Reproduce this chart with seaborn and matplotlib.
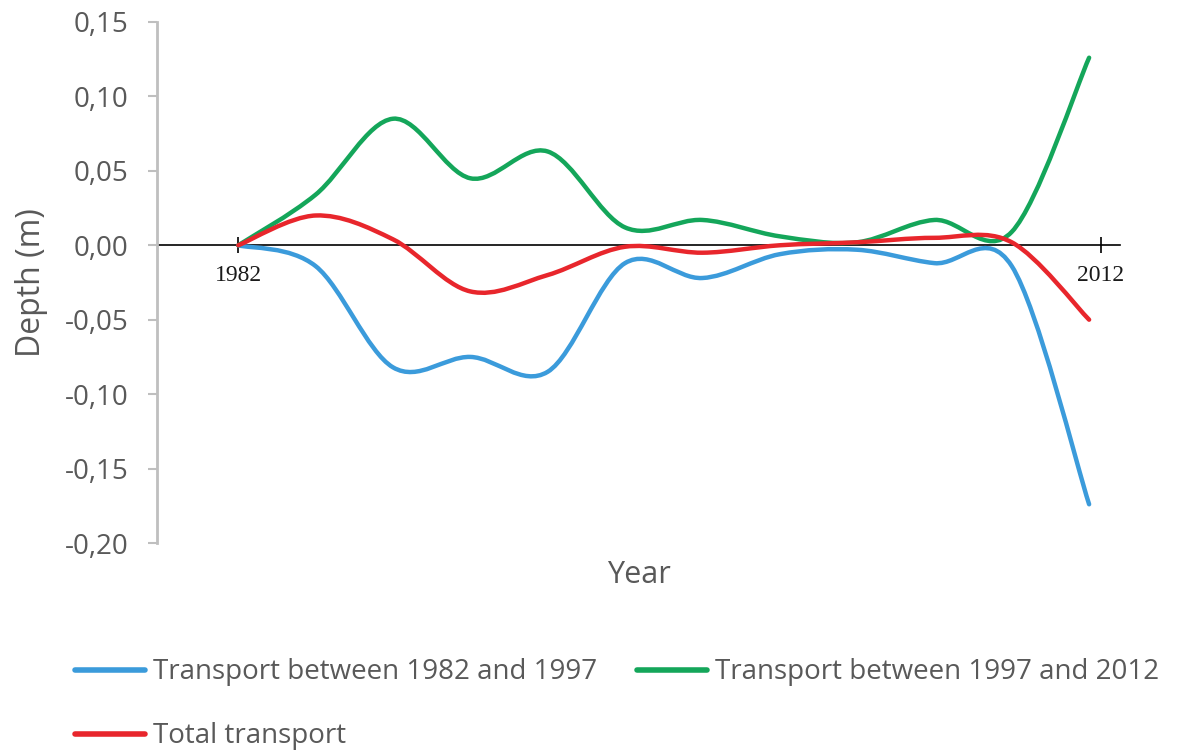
import numpy as np
import pandas as pd
import matplotlib.pyplot as plt
import seaborn as sns
from matplotlib.path import Path
from matplotlib.patches import PathPatch
from matplotlib.ticker import FuncFormatter

# survey steps along the x axis (first = 1982, last = 2012)
steps = [0, 1, 2, 3, 4, 5, 6, 7, 8, 9, 10, 11]
year_ticks = [0, 11.15]
year_labels = ["1982", "2012"]

blue_vals = [0.000, -0.014, -0.082, -0.075, -0.085, -0.012, -0.022, -0.006, -0.003, -0.012, -0.014, -0.174]
green_vals = [0.000, 0.034, 0.085, 0.045, 0.063, 0.012, 0.017, 0.006, 0.002, 0.017, 0.009, 0.126]
red_vals = [0.000, 0.020, 0.004, -0.031, -0.020, -0.001, -0.005, 0.000, 0.002, 0.005, 0.002, -0.050]

series_names = ["Transport between 1982 and 1997",
                "Transport between 1997 and 2012",
                "Total transport"]
colors = {series_names[0]: "#3B9BDB",
          series_names[1]: "#14A65A",
          series_names[2]: "#E8262C"}

df = pd.concat([
    pd.DataFrame({"step": steps, "depth": blue_vals, "series": series_names[0]}),
    pd.DataFrame({"step": steps, "depth": green_vals, "series": series_names[1]}),
    pd.DataFrame({"step": steps, "depth": red_vals, "series": series_names[2]}),
], ignore_index=True)

sns.set_theme(style="white")
plt.rcParams["font.family"] = ["Open Sans", "DejaVu Sans"]
GREY = "#595959"

fig = plt.figure(figsize=(11.88, 7.5), dpi=100)
ax = fig.add_axes([0.1322, 0.276, 0.8106, 0.6947])

sns.lineplot(data=df, x="step", y="depth", hue="series", hue_order=series_names,
             palette=colors, linewidth=3.2, ax=ax)


def smooth_path(xs, ys):
    """Excel-like smoothed line: Catmull-Rom control points as cubic Beziers."""
    p = np.column_stack([xs, ys]).astype(float)
    n = len(p)
    verts = [p[0]]
    codes = [Path.MOVETO]
    for i in range(n - 1):
        p_prev = p[i - 1] if i > 0 else p[i]
        p_next2 = p[i + 2] if i + 2 < n else p[i + 1]
        c1 = p[i] + (p[i + 1] - p_prev) / 6.0
        c2 = p[i + 1] - (p_next2 - p[i]) / 6.0
        verts += [c1, c2, p[i + 1]]
        codes += [Path.CURVE4] * 3
    return Path(verts, codes)


# replace the straight seaborn segments by smoothed curves
for line in list(ax.lines):
    xs, ys = line.get_xdata(), line.get_ydata()
    if len(xs) < 2:
        continue
    patch = PathPatch(smooth_path(xs, ys), fill=False, edgecolor=line.get_color(),
                      linewidth=3.2, capstyle="round", joinstyle="round", zorder=3)
    ax.add_patch(patch)
    line.set_visible(False)

handles, labels = ax.get_legend_handles_labels()
ax.get_legend().remove()

ax.set_xlim(-1.05, 11.4)
ax.set_ylim(-0.20, 0.15)
ax.set_yticks([-0.20, -0.15, -0.10, -0.05, 0.00, 0.05, 0.10, 0.15])
ax.yaxis.set_major_formatter(FuncFormatter(lambda v, pos: f"{v:.2f}".replace(".", ",")))
ax.set_xticks([])
ax.set_xlabel("Year", fontsize=22, color=GREY, labelpad=12)
ax.set_ylabel("Depth (m)", fontsize=23, color=GREY, labelpad=12)
ax.tick_params(axis="y", which="major", left=True, length=6.5, width=1.5,
               color="#BFBFBF", labelsize=20, labelcolor=GREY, pad=14)

for side in ["top", "right", "bottom"]:
    ax.spines[side].set_visible(False)
ax.spines["left"].set_color("#BFBFBF")
ax.spines["left"].set_linewidth(2)

# zero line with year marks
sec = ax.secondary_xaxis(0, transform=ax.transData)
sec.spines["bottom"].set_color("black")
sec.spines["bottom"].set_linewidth(1.2)
sec.set_xticks(year_ticks)
sec.set_xticklabels(year_labels, family=["Liberation Serif"], fontsize=17,
                    color="#1a1a1a")
sec.tick_params(axis="x", direction="inout", length=12, width=1.2, color="black", pad=8)

# row-major order: blue, green on the first row, red on the second
order = [0, 2, 1]
fig.legend([handles[i] for i in order], [labels[i] for i in order],
           loc="upper left", bbox_to_anchor=(0.054, 0.137),
           ncol=2, frameon=False, fontsize=20, labelcolor=GREY,
           handlelength=2.5, handletextpad=0.3, columnspacing=1.45,
           labelspacing=1.3, borderaxespad=0)
for h in fig.legends[0].legend_handles:
    h.set_linewidth(4)

fig.savefig("out.png", dpi=100)
